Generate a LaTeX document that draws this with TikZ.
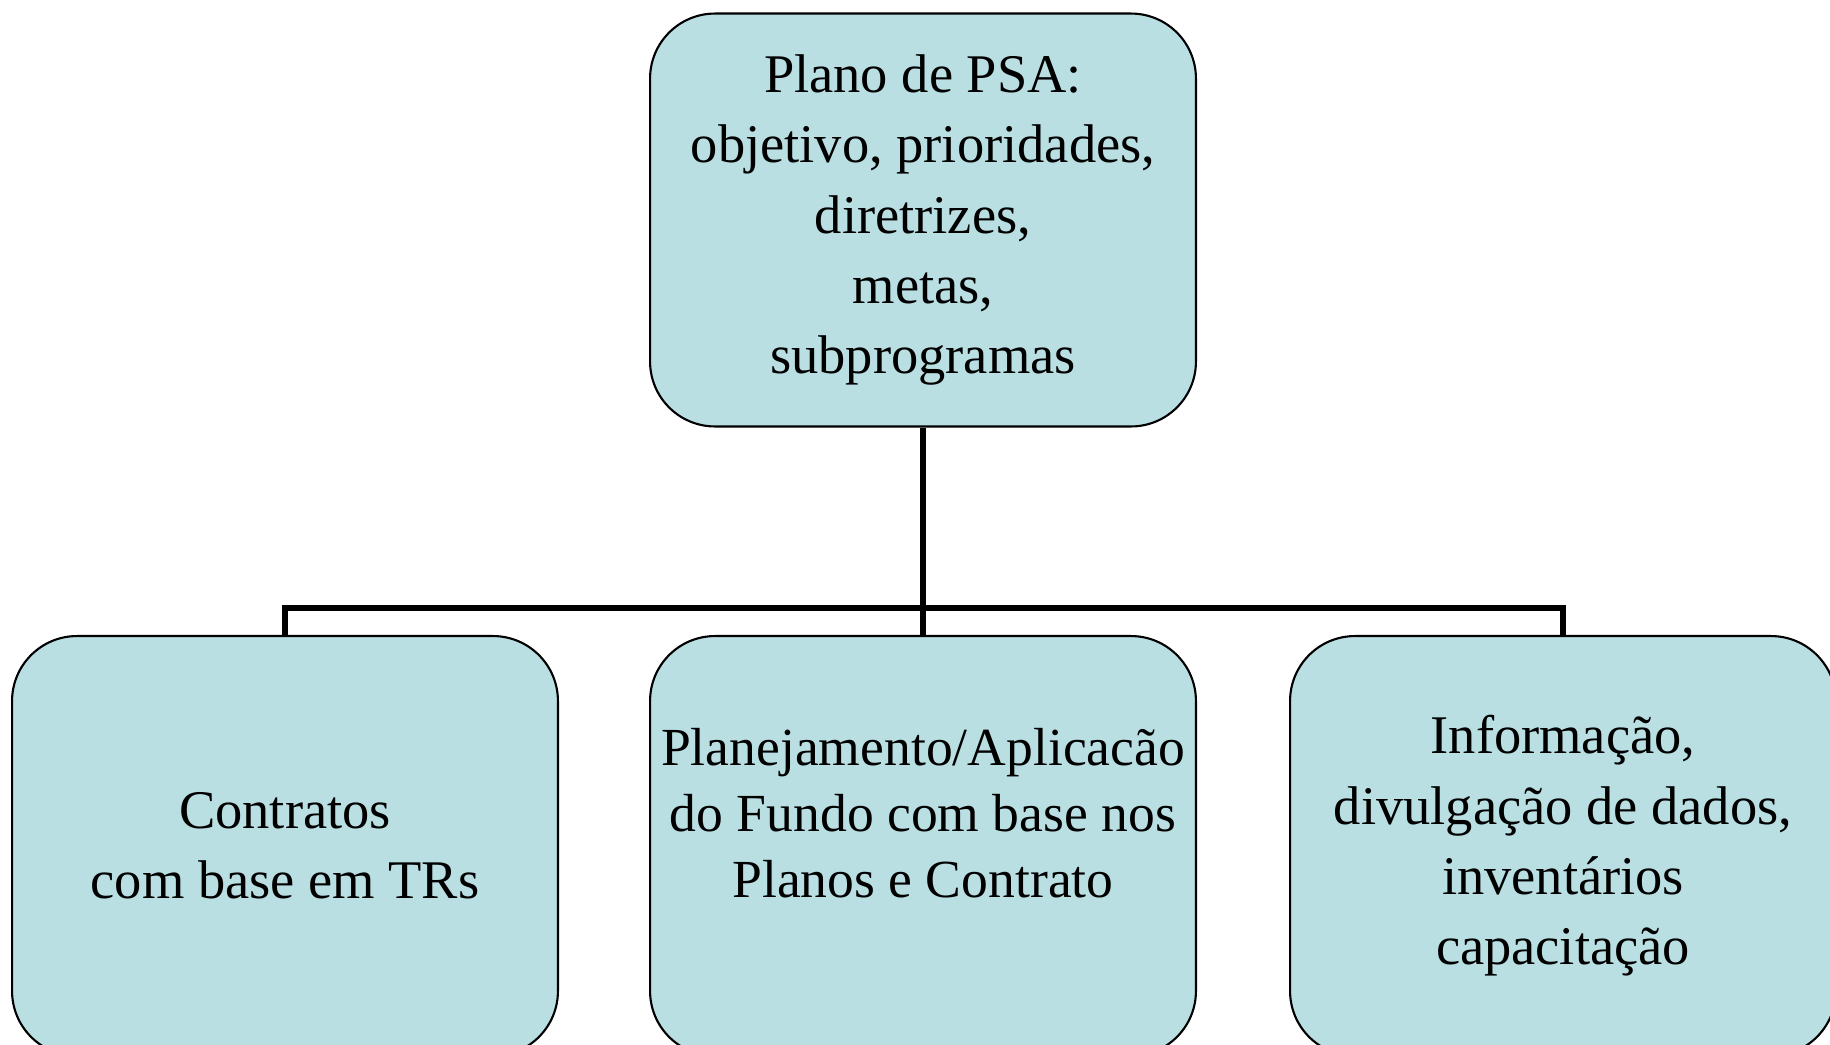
\documentclass[tikz,border=0pt]{standalone}
\usepackage{fontspec}
\setmainfont{Liberation Serif}
\usetikzlibrary{positioning}

\begin{document}
\begin{tikzpicture}[x=0.02cm,y=-0.02cm,
        box/.style={draw,line width=1.2pt,fill=boxfill,rounded corners=1.3cm,
                    align=center,inner sep=2pt,
                    font=\fontsize{31}{40}\selectfont},
        topbox/.style={box,minimum width=10.92cm,minimum height=8.26cm},
        lowbox/.style={box,minimum width=10.92cm,minimum height=8.4cm},
        conn/.style={line width=3.4pt}]

            \definecolor{boxfill}{RGB}{185,223,227}

            %\draw [help lines] (0,0) grid (1830,1045);
            \clip (0,0) rectangle (1830,1045);
            \fill[white] (0,0) rectangle (1830,1045);

            \path   (923,220)  node (a) [topbox] {Plano de PSA:\\ objetivo, prioridades,\\ diretrizes,\\ metas,\\ subprogramas}
                    (285,846)  node (b) [lowbox] {Contratos\\ com base em TRs}
                    (923,846)  node (c) [lowbox,font=\fontsize{30.5}{37.5}\selectfont] {Planejamento/Aplicacão\\ do Fundo com base nos\\ Planos e Contrato\\ \mbox{}}
                    (1563,846) node (d) [lowbox] {Informação,\\ divulgação de dados,\\ inventários\\ capacitação};

            \coordinate (bar) at (923,608);

            \draw[conn] (a.south) -- (c.north);
            \draw[conn] (b.north) -- (b.north |- bar) -- (d.north |- bar) -- (d.north);
        \end{tikzpicture}
\end{document}
